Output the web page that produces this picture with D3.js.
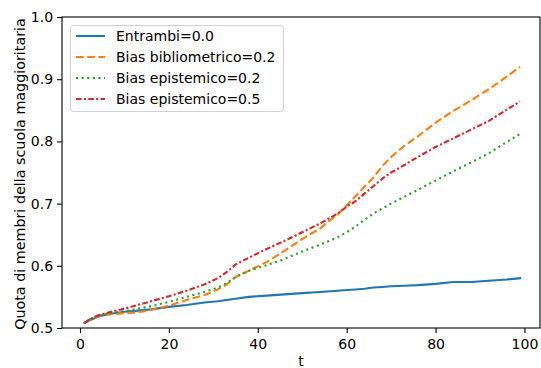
<!DOCTYPE html>
<html>
<head>
<meta charset="utf-8">
<script src="https://cdn.jsdelivr.net/npm/d3@7"></script>
<style>
  body { margin: 0; background: #fff; }
  svg { display: block; font-family: "DejaVu Sans", sans-serif; }
</style>
</head>
<body>
<svg id="chart" width="541" height="368"></svg>
<script>
const tValues = [1,2,3,4,5,7,10,13,16,20,24,28,31,33,35,38,42,46,50,54,58,60,62,64,66,68,70,73,76,80,84,88,92,96,99];
const entrambi = [0.508,0.512,0.515,0.518,0.520,0.523,0.526,0.528,0.530,0.534,0.537,0.541,0.543,0.545,0.547,0.550,0.552,0.554,0.556,0.558,0.560,0.561,0.562,0.563,0.565,0.566,0.567,0.568,0.569,0.571,0.574,0.574,0.576,0.578,0.580];
const biasBiblio = [0.508,0.513,0.516,0.519,0.521,0.522,0.524,0.525,0.529,0.536,0.545,0.553,0.562,0.570,0.582,0.592,0.606,0.624,0.643,0.660,0.683,0.697,0.712,0.727,0.742,0.760,0.775,0.793,0.808,0.830,0.849,0.866,0.884,0.904,0.920];
const biasEpi02 = [0.508,0.513,0.516,0.519,0.521,0.524,0.527,0.531,0.535,0.542,0.550,0.558,0.565,0.572,0.582,0.592,0.601,0.611,0.623,0.634,0.646,0.654,0.663,0.674,0.684,0.692,0.700,0.711,0.722,0.737,0.752,0.766,0.781,0.799,0.812];
const biasEpi05 = [0.508,0.513,0.517,0.520,0.522,0.526,0.531,0.537,0.543,0.551,0.560,0.570,0.580,0.590,0.602,0.613,0.627,0.640,0.654,0.668,0.684,0.695,0.704,0.716,0.728,0.740,0.750,0.762,0.775,0.791,0.805,0.819,0.833,0.851,0.864];
const seriesNames = ["Entrambi=0.0","Bias bibliometrico=0.2","Bias epistemico=0.2","Bias epistemico=0.5"];
const xTicks = [0,20,40,60,80,100];
const yTicks = [0.5,0.6,0.7,0.8,0.9,1.0];

const colors = ["#1f77b4","#ff7f0e","#2ca02c","#d62728"];
const dashes = [null, "7.8,3.4", "2.1,3.5", "5.6,2.3,2.1,2.3"];
const series = [entrambi, biasBiblio, biasEpi02, biasEpi05];

const L = 62, R = 540, T = 17, B = 328;
const x = d3.scaleLinear().domain([-4.05, 103.5]).range([L, R]);
const y = d3.scaleLinear().domain([0.5, 1.0]).range([B, T]);

const svg = d3.select("#chart");
const fs = 14;
const lw = 2.1;

// lines
const line = d3.line().x(d => x(d[0])).y(d => y(d[1]));
const plot = svg.append("g");
series.forEach((vals, i) => {
  plot.append("path")
    .datum(tValues.map((t, j) => [t, vals[j]]))
    .attr("d", line)
    .attr("fill", "none")
    .attr("stroke", colors[i])
    .attr("stroke-width", lw)
    .attr("stroke-linecap", i === 0 ? "square" : "butt")
    .attr("stroke-linejoin", "round")
    .attr("stroke-dasharray", dashes[i]);
});

// axes
const xAxis = d3.axisBottom(x).tickValues(xTicks).tickSize(4.9).tickPadding(6.5).tickFormat(d3.format("d"));
const yAxis = d3.axisLeft(y).tickValues(yTicks).tickSize(4.9).tickPadding(4).tickFormat(d3.format(".1f"));
const gx = svg.append("g").attr("transform", `translate(0,${B})`).call(xAxis);
const gy = svg.append("g").attr("transform", `translate(${L},0)`).call(yAxis);
[gx, gy].forEach(g => {
  g.select(".domain").remove();
  g.selectAll(".tick line").attr("stroke", "#000").attr("stroke-width", 1.1);
  g.selectAll(".tick text").attr("fill", "#000").style("font-size", fs + "px").style("font-family", "DejaVu Sans");
});

// spines
svg.append("rect").attr("x", L).attr("y", T).attr("width", R - L).attr("height", B - T)
  .attr("fill", "none").attr("stroke", "#000").attr("stroke-width", 1.1);

// labels
svg.append("text").attr("x", (L + R) / 2).attr("y", 366).attr("text-anchor", "middle")
  .style("font-size", fs + "px").text("t");
svg.append("text").attr("transform", `translate(24.5,174) rotate(-90)`).attr("text-anchor", "middle")
  .style("font-size", "14.3px").text("Quota di membri della scuola maggioritaria");

// legend
const lg = svg.append("g");
lg.append("rect").attr("x", 70.5).attr("y", 25.5).attr("width", 213).attr("height", 86).attr("rx", 3)
  .attr("fill", "#fff").attr("fill-opacity", 0.8).attr("stroke", "#d0d0d0").attr("stroke-width", 1);
const rowsY = [36, 57, 78, 99];
seriesNames.forEach((name, i) => {
  lg.append("line").attr("x1", 76).attr("x2", 105).attr("y1", rowsY[i]).attr("y2", rowsY[i])
    .attr("stroke", colors[i]).attr("stroke-width", lw).attr("stroke-dasharray", dashes[i]);
  lg.append("text").attr("x", 116).attr("y", rowsY[i]).attr("dy", "0.35em")
    .style("font-size", fs + "px").attr("fill", "#000").text(name);
});
</script>
</body>
</html>
